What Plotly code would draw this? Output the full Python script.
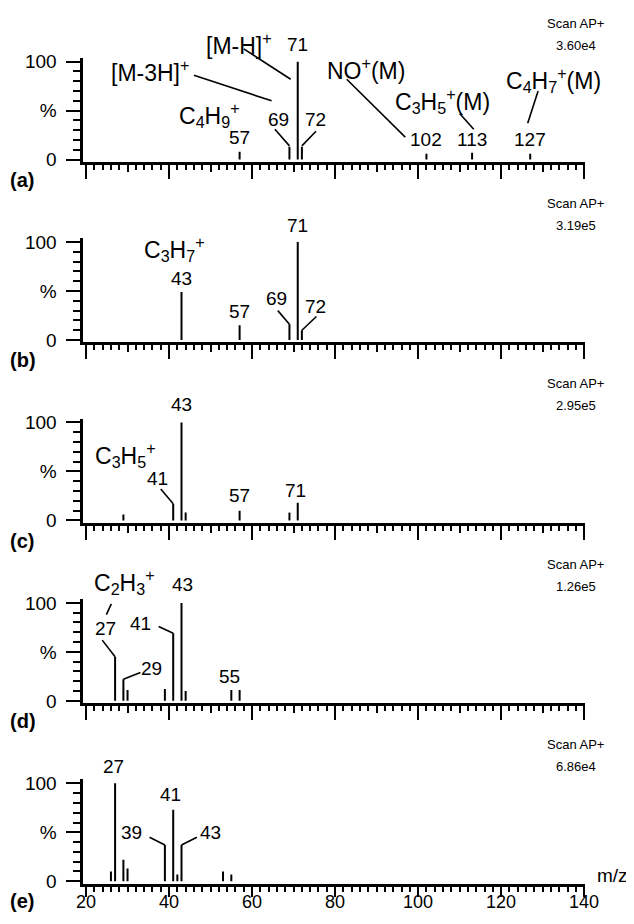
import plotly.graph_objects as go

# ---------------- data (m/z, relative intensity %) ----------------
mz_a = [57, 69, 71, 72, 102, 113, 127]
int_a = [8, 13, 100, 13, 6, 7, 6]

mz_b = [43, 57, 69, 71, 72]
int_b = [49, 15, 16, 100, 10]

mz_c = [29, 41, 43, 44, 57, 69, 71]
int_c = [6, 17, 100, 8, 10, 8, 18]

mz_d = [27, 29, 30, 39, 41, 43, 44, 55, 57]
int_d = [45, 22, 11, 12, 69, 100, 10, 11, 11]

mz_e = [26, 27, 29, 30, 39, 41, 42, 43, 53, 55]
int_e = [10, 100, 22, 13, 37, 73, 7, 37, 10, 7]

panel_letters = ["(a)", "(b)", "(c)", "(d)", "(e)"]
scan_titles = ["Scan AP+"] * 5
scan_values = ["3.60e4", "3.19e5", "2.95e5", "1.26e5", "6.86e4"]

x_major_ticks = [20, 40, 60, 80, 100, 120, 140]
x_tick_text = ["20", "40", "60", "80", "100", "120", "140"]
x_mid_ticks = [30, 50, 70, 90, 110, 130]
y_tick_vals = [0, 50, 100]
y_tick_text = ["0", "%", "100"]
x_title = "m/z"

# peak annotations: (text, m/z position, % position, kind)
labels_a = [
    ("[M-H]<sup>+</sup>", 56.8, 118, "f"),
    ("71", 71, 117, "n"),
    ("[M-3H]<sup>+</sup>", 35.3, 90, "f"),
    ("C<sub>4</sub>H<sub>9</sub><sup>+</sup>", 49.7, 46, "f"),
    ("57", 57, 23, "n"),
    ("69", 66.4, 41, "n"),
    ("72", 75.3, 41, "n"),
    ("NO<sup>+</sup>(M)", 87.4, 92, "f"),
    ("102", 102, 21, "n"),
    ("C<sub>3</sub>H<sub>5</sub><sup>+</sup>(M)", 105.9, 60, "f"),
    ("113", 113, 21, "n"),
    ("C<sub>4</sub>H<sub>7</sub><sup>+</sup>(M)", 132.5, 81, "f"),
    ("127", 127, 21, "n"),
]
leaders_a = [
    (58.0, 113, 69.3, 82),
    (46.0, 86, 64.7, 60),
    (65.5, 31, 69, 14),
    (75.4, 29, 72, 14),
    (82.8, 82, 96.9, 23),
    (110.0, 47, 113.4, 31),
    (128.9, 70, 126.4, 37),
]
labels_b = [
    ("C<sub>3</sub>H<sub>7</sub><sup>+</sup>", 41.4, 93, "f"),
    ("43", 43, 63, "n"),
    ("57", 57, 29, "n"),
    ("69", 65.8, 42, "n"),
    ("71", 71, 117, "n"),
    ("72", 75.2, 34, "n"),
]
leaders_b = [
    (66.2, 30, 69, 16),
    (75.5, 24, 72, 10),
]
labels_c = [
    ("C<sub>3</sub>H<sub>5</sub><sup>+</sup>", 29.5, 67, "f"),
    ("41", 37.2, 43, "n"),
    ("43", 43, 118, "n"),
    ("57", 57, 25, "n"),
    ("71", 70.4, 31, "n"),
]
leaders_c = [
    (38.0, 32, 41, 17),
]
labels_d = [
    ("C<sub>2</sub>H<sub>3</sub><sup>+</sup>", 29.3, 121, "f"),
    ("27", 24.8, 74, "n"),
    ("29", 35.8, 33, "n"),
    ("41", 33.2, 79, "n"),
    ("43", 43.2, 119, "n"),
    ("55", 54.5, 25, "n"),
]
leaders_d = [
    (26.1, 99, 24.9, 88),
    (23.9, 62, 27, 45),
    (33.1, 29, 29, 22),
    (37.5, 76, 41, 69),
]
labels_e = [
    ("27", 26.6, 117, "n"),
    ("41", 40.4, 89, "n"),
    ("39", 31.0, 50, "n"),
    ("43", 49.9, 50, "n"),
]
leaders_e = [
    (35.3, 45, 39, 37),
    (46.7, 45, 43, 37),
]

series = [(mz_a, int_a), (mz_b, int_b), (mz_c, int_c), (mz_d, int_d), (mz_e, int_e)]
labels = [labels_a, labels_b, labels_c, labels_d, labels_e]
leaders = [leaders_a, leaders_b, leaders_c, leaders_d, leaders_e]

# ---------------- geometry / styling ----------------
OFF = 8                               # page body margin around the figure
W, H = 634 - OFF, 924 - 2 * OFF       # figure fits the window, no scrollbars
Y_SHIFT, Y_SCALE = 13.4, 0.985        # observed page placement of the figure rows
FONT = "Liberation Sans, Arial, Helvetica, sans-serif"
X_RANGE = [19.15, 140.2]
Y_RANGE = [-2.5, 104]
L_PX, R_PX = 82.5 - OFF, 585.0 - OFF
A0, STEP = 161.5, 180.5               # target page row of each panel's x-axis
S = 0.98                              # target page px per % unit
NUM_SIZE, FORM_SIZE = 19, 23


def ax_id(letter, k):
    return letter if k == 1 else f"{letter}{k}"


def py_page(page_y):
    """paper y for a target page row"""
    return 1 - ((page_y - Y_SHIFT) / Y_SCALE) / H


def paper_y(i, v):
    return py_page(A0 + STEP * i - (v - Y_RANGE[0]) * S)


fig = go.Figure()
layout = dict(
    width=W, height=H,
    margin=dict(l=0, r=0, t=0, b=0),
    paper_bgcolor="white", plot_bgcolor="white",
    showlegend=False,
    font=dict(family=FONT, color="black"),
)
annotations = []
shapes = []

for i, (mz, inten) in enumerate(series):
    k = i + 1
    xs, ys = [], []
    for m, v in zip(mz, inten):
        xs += [m, m, None]
        ys += [0, v, None]
    fig.add_trace(go.Scatter(
        x=xs, y=ys, mode="lines",
        line=dict(color="black", width=2),
        xaxis=ax_id("x", k), yaxis=ax_id("y", k),
        hoverinfo="skip", showlegend=False,
    ))
    fig.add_trace(go.Scatter(
        x=[None], y=[None], mode="lines",
        xaxis=f"x{k + 5}", yaxis=ax_id("y", k),
        hoverinfo="skip", showlegend=False,
    ))

    A = A0 + STEP * i
    T = A - (Y_RANGE[1] - Y_RANGE[0]) * S
    ydom = [py_page(A), py_page(T)]
    xdom = [L_PX / W, R_PX / W]

    layout["xaxis" if k == 1 else f"xaxis{k}"] = dict(
        domain=xdom, range=X_RANGE, anchor=ax_id("y", k),
        showline=True, linewidth=3, linecolor="black",
        ticks="outside", tickvals=x_major_ticks, ticklen=(10 if i == 4 else 14),
        tickwidth=2, tickcolor="black",
        showticklabels=False,
        showgrid=False, zeroline=False, fixedrange=True,
        minor=dict(dtick=2, tick0=20, ticks="outside", ticklen=5, tickwidth=1.5,
                   tickcolor="black", showgrid=False),
    )
    layout[f"xaxis{k + 5}"] = dict(
        domain=xdom, range=X_RANGE, anchor=ax_id("y", k), overlaying=ax_id("x", k),
        showline=False, ticks="outside", tickvals=x_mid_ticks, ticklen=(7 if i == 4 else 9),
        tickwidth=2, tickcolor="black", showticklabels=False, showgrid=False,
        zeroline=False, fixedrange=True,
    )
    layout["yaxis" if k == 1 else f"yaxis{k}"] = dict(
        domain=ydom, range=Y_RANGE, anchor=ax_id("x", k),
        showline=True, linewidth=3, linecolor="black",
        ticks="outside", tickvals=y_tick_vals, ticktext=y_tick_text,
        ticklen=14, tickwidth=2, tickcolor="black", ticklabelstandoff=5,
        tickfont=dict(size=19, family=FONT, color="black"),
        showgrid=False, zeroline=False, fixedrange=True,
        minor=dict(dtick=10, tick0=0, ticks="outside", ticklen=7, tickwidth=1.5,
                   tickcolor="black", showgrid=False),
    )

    for text, xm, yp, kind in labels[i]:
        annotations.append(dict(
            text=text, x=xm, xref=ax_id("x", k), y=paper_y(i, yp), yref="paper",
            showarrow=False, xanchor="center", yanchor="middle",
            font=dict(size=NUM_SIZE if kind == "n" else FORM_SIZE, family=FONT, color="black"),
        ))
    for x0, y0, x1, y1 in leaders[i]:
        shapes.append(dict(
            type="line", xref=ax_id("x", k), yref="paper",
            x0=x0, y0=paper_y(i, y0), x1=x1, y1=paper_y(i, y1),
            line=dict(color="black", width=1.6),
        ))

    annotations.append(dict(
        text=scan_titles[i], x=(575 - OFF) / W, xref="paper", y=py_page(A - 139), yref="paper",
        showarrow=False, xanchor="center", yanchor="middle",
        font=dict(size=13, family=FONT, color="black"),
    ))
    annotations.append(dict(
        text=scan_values[i], x=(576 - OFF) / W, xref="paper", y=py_page(A - 117), yref="paper",
        showarrow=False, xanchor="center", yanchor="middle",
        font=dict(size=13, family=FONT, color="black"),
    ))
    letter_row = 901 if i == 4 else A + 18
    annotations.append(dict(
        text=f"<b>{panel_letters[i]}</b>", x=0, xref="paper", y=py_page(letter_row),
        yref="paper", showarrow=False, xanchor="left", yanchor="middle",
        font=dict(size=20, family=FONT, color="black"),
    ))

# x tick labels of the bottom panel (kept inside the drawable area, below the ticks)
for v, t in zip(x_major_ticks, x_tick_text):
    annotations.append(dict(
        text=t, x=v, xref="x5", y=py_page(902), yref="paper",
        showarrow=False, xanchor="center", yanchor="middle",
        font=dict(size=18, family=FONT, color="black"),
    ))

annotations.append(dict(
    text=x_title, x=(612 - OFF) / W, xref="paper", y=py_page(A0 + STEP * 4 - 8), yref="paper",
    showarrow=False, xanchor="center", yanchor="middle",
    font=dict(size=19, family=FONT, color="black"),
))

layout["annotations"] = annotations
layout["shapes"] = shapes
fig.update_layout(**layout)
fig.write_html("out.html")
